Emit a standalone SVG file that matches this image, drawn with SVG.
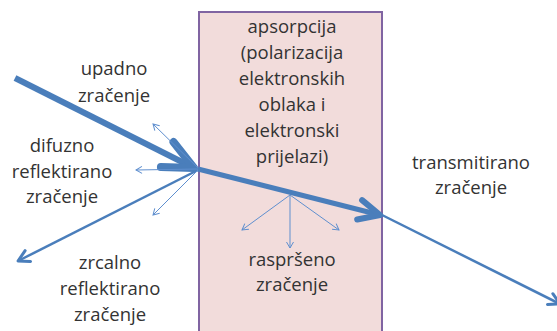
<svg xmlns="http://www.w3.org/2000/svg" width="557" height="331" viewBox="0 0 557 331">
<style>
text{font-family:"Open Sans","Liberation Sans",sans-serif;font-size:18.5px;fill:#333;text-anchor:middle}
.thick{stroke:#4a7ebb;fill:none;stroke-width:6}
.mid{stroke:#4a7ebb;fill:none;stroke-width:5}
.med{stroke:#4a7ebb;fill:none;stroke-width:2.5}
.thin{stroke:#5f8fcf;fill:none;stroke-width:1}
</style>
<defs>
<marker id="aBig" markerUnits="userSpaceOnUse" orient="auto" overflow="visible" markerWidth="1" markerHeight="1">
<path d="M-30,-14 L0,0 L-30,14" fill="none" stroke="#4a7ebb" stroke-width="8" stroke-linecap="round" stroke-linejoin="round"/>
</marker>
<marker id="aMid" markerUnits="userSpaceOnUse" orient="auto" overflow="visible" markerWidth="1" markerHeight="1">
<path d="M-21,-10 L0,0 L-21,10" fill="none" stroke="#4a7ebb" stroke-width="6" stroke-linecap="round" stroke-linejoin="round"/>
</marker>
<marker id="aMed" markerUnits="userSpaceOnUse" orient="auto" overflow="visible" markerWidth="1" markerHeight="1">
<path d="M-11,-6 L0,0 L-11,6" fill="none" stroke="#4a7ebb" stroke-width="3" stroke-linecap="round" stroke-linejoin="round"/>
</marker>
<marker id="aThin" markerUnits="userSpaceOnUse" orient="auto" overflow="visible" markerWidth="1" markerHeight="1">
<path d="M-6,-3.5 L0,0 L-6,3.5" fill="none" stroke="#5f8fcf" stroke-width="1"/>
</marker>
</defs>
<g id="medium">
<rect x="199" y="12" width="183" height="330" fill="#f2dcdb" stroke="#8064a2" stroke-width="2"/>
<text x="292" y="33">apsorpcija</text>
<text x="292" y="59">(polarizacija</text>
<text x="292" y="85">elektronskih</text>
<text x="292" y="111">oblaka i</text>
<text x="292" y="137">elektronski</text>
<text x="292" y="163">prijelazi)</text>
</g>
<g id="connectors">
<line class="thick" x1="15" y1="78" x2="194" y2="168" marker-end="url(#aBig)"/>
<line class="mid" x1="198" y1="169" x2="380" y2="215" marker-end="url(#aMid)"/>
<line class="med" x1="382" y1="215" x2="560" y2="304" marker-end="url(#aMed)"/>
<line class="med" x1="198" y1="170" x2="18" y2="261" marker-end="url(#aMed)"/>
<line class="thin" x1="198" y1="168" x2="153" y2="124" marker-end="url(#aThin)"/>
<line class="thin" x1="198" y1="169" x2="136" y2="170" marker-end="url(#aThin)"/>
<line class="thin" x1="198" y1="170" x2="153" y2="215" marker-end="url(#aThin)"/>
<line class="thin" x1="290" y1="195" x2="242" y2="230" marker-end="url(#aThin)"/>
<line class="thin" x1="290" y1="195" x2="290" y2="248" marker-end="url(#aThin)"/>
<line class="thin" x1="290" y1="195" x2="339" y2="230" marker-end="url(#aThin)"/>
</g>
<g id="upadno">
<text x="114" y="75">upadno</text>
<text x="114" y="102">zračenje</text>
</g>
<g id="difuzno">
<text x="62" y="152">difuzno</text>
<text x="62" y="178">reflektirano</text>
<text x="62" y="203">zračenje</text>
</g>
<g id="zrcalno">
<text x="110" y="269">zrcalno</text>
<text x="110" y="295">reflektirano</text>
<text x="110" y="321">zračenje</text>
</g>
<g id="rasprseno">
<text x="292" y="266">raspršeno</text>
<text x="292" y="291">zračenje</text>
</g>
<g id="transmitirano">
<text x="471" y="169">transmitirano</text>
<text x="471" y="194">zračenje</text>
</g>
</svg>
